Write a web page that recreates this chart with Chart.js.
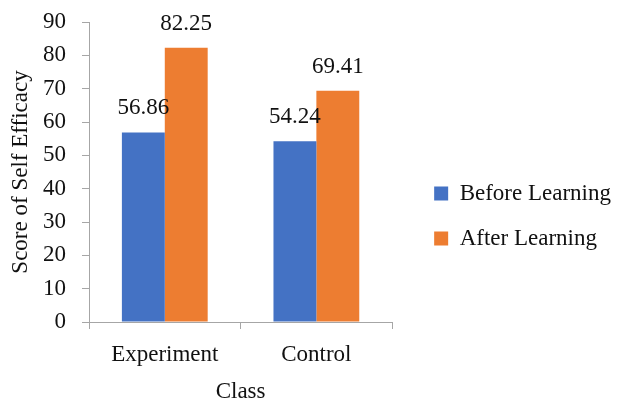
<!DOCTYPE html>
<html>
<head>
<meta charset="utf-8">
<script src="https://cdn.jsdelivr.net/npm/chart.js@4.4.0/dist/chart.umd.min.js"></script>
<style>
  html, body { margin: 0; padding: 0; background: #ffffff; }
  #wrap { width: 626px; height: 404px; }
</style>
</head>
<body>
<div id="wrap"><canvas id="c" width="626" height="404"></canvas></div>
<script>
const categories = ["Experiment", "Control"];
const seriesNames = ["Before Learning", "After Learning"];
const beforeValues = [56.86, 54.24];
const afterValues = [82.25, 69.41];
const yTickMin = 0, yTickMax = 90, yTickStep = 10;
const xTitle = "Class";
const yTitle = "Score of Self Efficacy";

const FONT = "'Liberation Serif', 'Times New Roman', serif";
const FS = 23;
const AXIS = "#a6a6a6";
const TEXT = "#111111";

const valueLabels = {
  id: 'valueLabels',
  afterDatasetsDraw(chart) {
    const ctx = chart.ctx;
    ctx.save();
    ctx.font = FS + "px " + FONT;
    ctx.fillStyle = TEXT;
    ctx.textAlign = 'center';
    ctx.textBaseline = 'alphabetic';
    chart.data.datasets.forEach((ds, di) => {
      const meta = chart.getDatasetMeta(di);
      meta.data.forEach((bar, i) => {
        ctx.fillText(ds.data[i].toFixed(2), bar.x, bar.y - 18);
      });
    });
    ctx.restore();
  }
};

new Chart(document.getElementById('c'), {
  type: 'bar',
  data: {
    labels: categories,
    datasets: [
      { label: seriesNames[0], data: beforeValues, backgroundColor: '#4472C4', yAxisID: 'y' },
      { label: seriesNames[1], data: afterValues, backgroundColor: '#ED7D31', yAxisID: 'y' }
    ]
  },
  options: {
    responsive: false,
    animation: false,
    devicePixelRatio: 1,
    categoryPercentage: 0.566,
    barPercentage: 1.0,
    layout: { padding: { top: 22, right: 5, bottom: 0, left: 0 } },
    plugins: {
      tooltip: { enabled: false },
      legend: {
        position: 'right',
        align: 'center',
        maxWidth: 320,
        title: { display: true, text: ' ', padding: 0, font: { family: FONT, size: 5 } },
        labels: {
          font: { family: FONT, size: FS },
          color: TEXT,
          boxWidth: 14,
          boxHeight: 14,
          padding: 22
        }
      }
    },
    scales: {
      x: {
        grid: { display: true, drawOnChartArea: false, drawTicks: true, tickLength: 7, color: AXIS },
        border: { display: true, color: AXIS, width: 1 },
        ticks: { font: { family: FONT, size: FS }, color: TEXT, padding: 12, maxRotation: 0 },
        title: { display: true, text: xTitle, font: { family: FONT, size: FS }, color: TEXT, padding: { top: 4, bottom: -2 } },
        afterFit: (s) => { s.height = 82; }
      },
      y: {
        position: 'left',
        min: yTickMin, max: yTickMax,
        ticks: { stepSize: yTickStep, font: { family: FONT, size: FS }, color: TEXT, padding: 16 },
        grid: { display: true, drawOnChartArea: false, drawTicks: true, tickLength: 7, color: AXIS },
        border: { display: true, color: AXIS, width: 1 },
        title: { display: true, text: yTitle, font: { family: FONT, size: FS }, color: TEXT, padding: { top: 7, bottom: 4 } },
        afterFit: (s) => { s.width = 89; s.paddingTop = 0; s.paddingBottom = 0; }
      },
      gap: {
        type: 'linear',
        position: 'right',
        display: true,
        grid: { display: false },
        border: { display: false },
        ticks: { display: false },
        afterFit: (s) => { s.width = 20; s.paddingTop = 0; s.paddingBottom = 0; }
      }
    }
  },
  plugins: [valueLabels]
});
</script>
</body>
</html>
